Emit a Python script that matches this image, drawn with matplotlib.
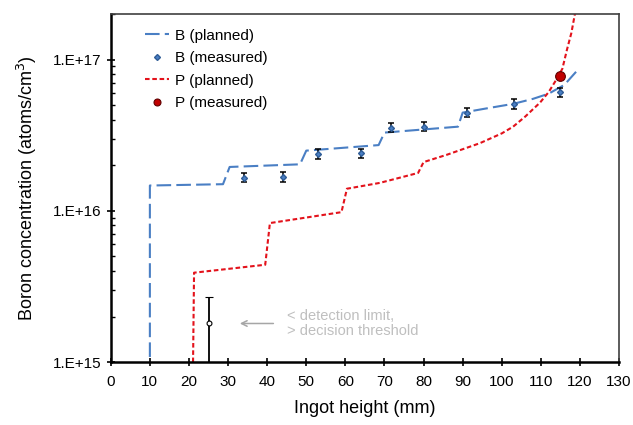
import math
import matplotlib
matplotlib.use("Agg")
import matplotlib.pyplot as plt
from matplotlib.lines import Line2D
from matplotlib.ticker import FixedLocator, LogLocator, FuncFormatter, NullFormatter

plt.rcParams["font.family"] = ["Liberation Sans", "DejaVu Sans"]

# planned B profile (steps from additions during growth)
b_plan_x = [10, 10, 28.7, 30.4, 48.4, 50, 68.5, 70, 88.8, 90, 96, 103, 108, 112, 116, 119]
b_plan_y = [8e14, 1.47e16, 1.5e16, 1.95e16, 2.03e16, 2.5e16, 2.72e16, 3.29e16, 3.6e16, 4.46e16,
            4.75e16, 5.1e16, 5.5e16, 5.95e16, 6.8e16, 8.3e16]

# measured B
b_meas_x = [34, 44, 53, 64, 71.7, 80, 91, 103, 115]
b_meas_y = [1.66e16, 1.68e16, 2.38e16, 2.4e16, 3.55e16, 3.6e16, 4.46e16, 5.1e16, 6.1e16]
b_meas_err = 0.07  # relative

# planned P profile
p_plan_x = [21, 21.3, 39.5, 40.7, 59, 60.4, 68.8, 78.6, 80, 86, 94.4, 100, 102.9, 106,
            109.8, 112, 114, 115.5, 116.7, 117.8, 118.7, 119.2]
p_plan_y = [8e14, 3.9e15, 4.4e15, 8.3e15, 9.8e15, 1.4e16, 1.53e16, 1.78e16, 2.1e16, 2.35e16,
            2.8e16, 3.25e16, 3.6e16, 4.2e16, 5.2e16, 6.1e16, 7.4e16, 8.7e16, 1.17e17, 1.5e17,
            2.0e17, 2.3e17]

# measured P
p_meas_x = [115]
p_meas_y = [7.8e16]

# B value below detection limit
low_x = [25]
low_y = [1.8e15]
low_err_lo = [1.7e15]
low_err_hi = [0.9e15]

x_ticks = list(range(0, 131, 10))

fig = plt.figure(figsize=(6.33, 4.25), dpi=100)
ax = fig.add_axes([0.175, 0.148, 0.803, 0.819])

blue = "#4a7fc4"
red = "#e3121b"

ax.plot(b_plan_x, b_plan_y, color=blue, lw=1.5, dashes=(7, 2.5))
ax.errorbar(b_meas_x, b_meas_y, yerr=[v * b_meas_err for v in b_meas_y],
            fmt="D", ms=3, mfc=blue, mec="#2f5c96", ecolor="black", elinewidth=1.1,
            capsize=2.5, capthick=1.1)
ax.plot(p_plan_x, p_plan_y, color=red, lw=1.5, dashes=(2.2, 1.3))
ax.plot(p_meas_x, p_meas_y, "o", ms=7, mfc="#c00000", mec="#600000", mew=0.8, zorder=5)

ax.errorbar(low_x, low_y, yerr=[low_err_lo, low_err_hi], fmt="o", ms=3.5, mfc="white",
            mec="black", mew=0.8, ecolor="black", elinewidth=1.3, capsize=3, capthick=1.2)

ax.annotate("", xy=(32.3, 1.8e15), xytext=(42.3, 1.8e15),
            arrowprops=dict(arrowstyle="->", color="#a6a6a6", lw=1.1))
ax.text(45, 1.8e15, "< detection limit,\n> decision threshold", color="#bfbfbf",
        fontsize=10.5, va="center", ha="left", linespacing=1.15)

ax.set_yscale("log")
ax.set_xlim(0, 130)
ax.set_ylim(1e15, 2e17)
ax.xaxis.set_major_locator(FixedLocator(x_ticks))
ax.yaxis.set_major_locator(LogLocator(base=10, numticks=10))
ax.yaxis.set_minor_locator(LogLocator(base=10, subs=range(2, 10), numticks=10))
ax.yaxis.set_minor_formatter(NullFormatter())
ax.yaxis.set_major_formatter(FuncFormatter(lambda v, p: "1.E+%d" % round(math.log10(v))))

ax.tick_params(axis="both", which="major", direction="inout", length=6, width=1.2,
               labelsize=11, colors="black")
ax.tick_params(axis="y", which="minor", direction="in", length=3, width=1)
ax.tick_params(axis="x", pad=6)

for s in ["left", "bottom"]:
    ax.spines[s].set_linewidth(1.8)
    ax.spines[s].set_color("black")
for s in ["top", "right"]:
    ax.spines[s].set_linewidth(1.2)
    ax.spines[s].set_color("#404040")

ax.set_xlabel("Ingot height (mm)", fontsize=13, labelpad=8)
ax.set_ylabel("Boron concentration (atoms/cm$^3$)", fontsize=13, labelpad=10)

handles = [
    Line2D([], [], color=blue, lw=1.5, dashes=(7, 2.5)),
    Line2D([], [], ls="none", marker="D", ms=3, mfc=blue, mec="#2f5c96"),
    Line2D([], [], color=red, lw=1.5, dashes=(2.2, 1.3)),
    Line2D([], [], ls="none", marker="o", ms=5, mfc="#c00000", mec="#600000", mew=0.8),
]
labels = ["B (planned)", "B (measured)", "P (planned)", "P (measured)"]
ax.legend(handles, labels, loc="upper left", bbox_to_anchor=(0.055, 0.975), frameon=False,
          fontsize=11, handlelength=1.6, handletextpad=0.4, labelspacing=0.55, borderaxespad=0)

fig.savefig("out.png", dpi=100)
